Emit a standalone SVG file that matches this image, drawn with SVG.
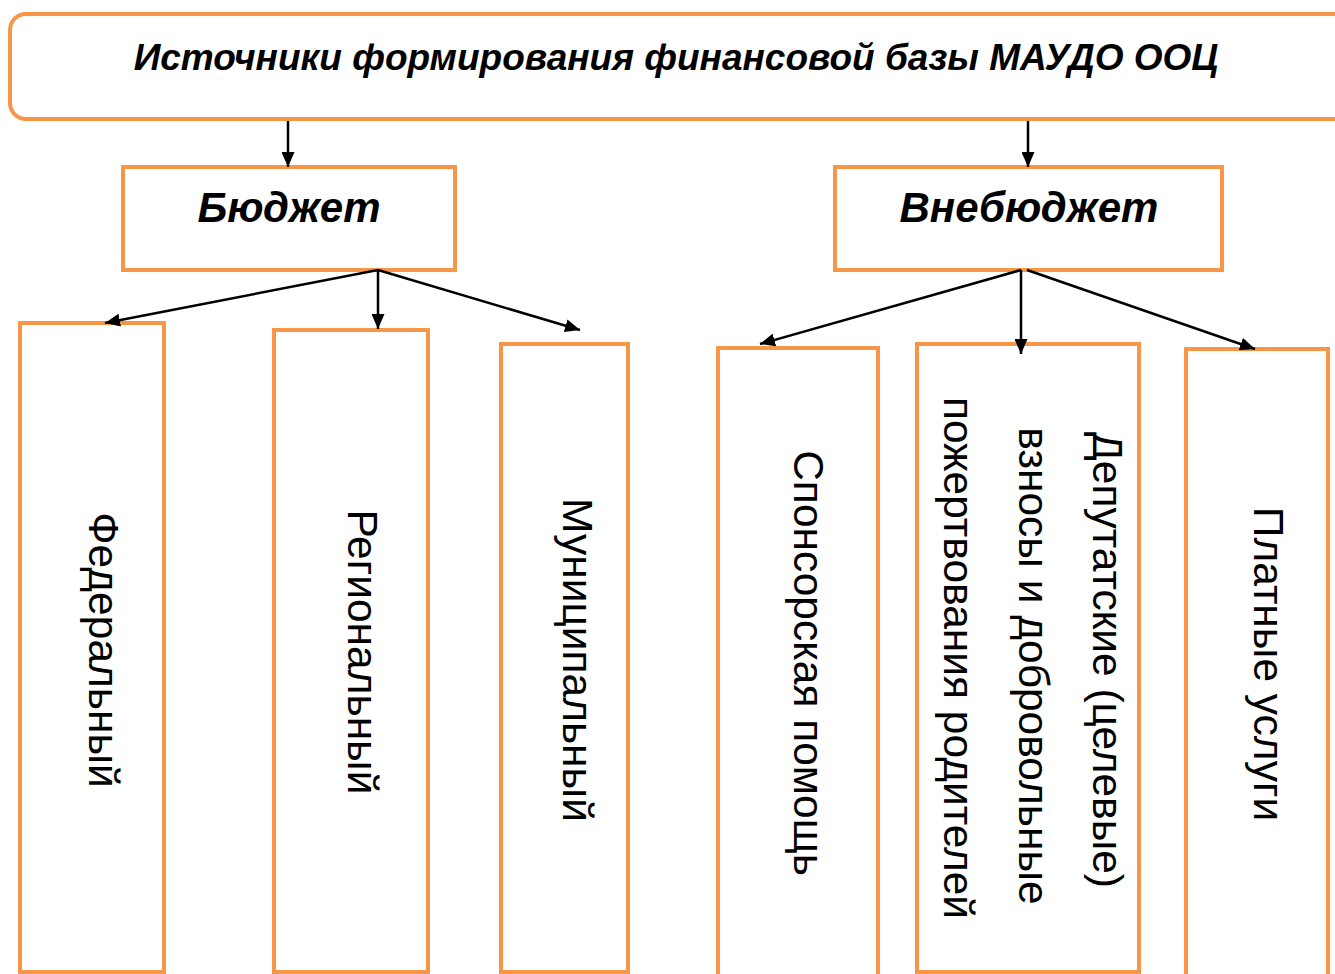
<svg xmlns="http://www.w3.org/2000/svg" width="1335" height="974" viewBox="0 0 1335 974">
<defs>
<marker id="ah" viewBox="0 0 10 10" refX="10" refY="5" markerWidth="15" markerHeight="13" markerUnits="userSpaceOnUse" orient="auto" preserveAspectRatio="none">
<path d="M0,0 L10,5 L0,10 z" fill="#000"/>
</marker>
<style>
.box{fill:#fff;stroke:#F79646;stroke-width:4}
.title{font-family:"Liberation Sans",Arial,sans-serif;font-weight:bold;font-style:italic;fill:#000}
.vt{font-family:"Liberation Sans",Arial,sans-serif;font-size:42.5px;fill:#000}
.conn line{stroke:#000;stroke-width:2.5;marker-end:url(#ah)}
</style>
</defs>
<rect width="1335" height="974" fill="#fff"/>
<g id="root">
<rect class="box" x="10" y="14" width="1345" height="105" rx="16"/>
<text class="title" x="676" y="70" font-size="37" text-anchor="middle">Источники формирования финансовой базы МАУДО ООЦ</text>
</g>
<g id="budget">
<rect class="box" x="123" y="167" width="332" height="103"/>
<text class="title" x="289" y="222" font-size="42" text-anchor="middle">Бюджет</text>
</g>
<g id="offbudget">
<rect class="box" x="835" y="167" width="387" height="103"/>
<text class="title" x="1029" y="222" font-size="42" text-anchor="middle">Внебюджет</text>
</g>
<g id="federal">
<rect class="box" x="20" y="323" width="144" height="649"/>
<text class="vt" transform="translate(103,650) rotate(90)" text-anchor="middle" dominant-baseline="central">Федеральный</text>
</g>
<g id="regional">
<rect class="box" x="274" y="330" width="154" height="642"/>
<text class="vt" transform="translate(362,652) rotate(90)" text-anchor="middle" dominant-baseline="central">Региональный</text>
</g>
<g id="municipal">
<rect class="box" x="501" y="344" width="127" height="628"/>
<text class="vt" transform="translate(577,660) rotate(90)" text-anchor="middle" dominant-baseline="central">Муниципальный</text>
</g>
<g id="sponsor">
<rect class="box" x="718" y="348" width="160" height="640"/>
<text class="vt" transform="translate(808,663) rotate(90)" text-anchor="middle" dominant-baseline="central">Спонсорская помощь</text>
</g>
<g id="deputy">
<rect class="box" x="917" y="344" width="222" height="628"/>
<text class="vt" transform="translate(1107,660) rotate(90)" text-anchor="middle" dominant-baseline="central">Депутатские (целевые)</text>
<text class="vt" transform="translate(1033,666) rotate(90)" text-anchor="middle" dominant-baseline="central">взносы и добровольные</text>
<text class="vt" transform="translate(958,658) rotate(90)" text-anchor="middle" dominant-baseline="central">пожертвования родителей</text>
</g>
<g id="paid">
<rect class="box" x="1186" y="349" width="142" height="640"/>
<text class="vt" transform="translate(1268,664) rotate(90)" text-anchor="middle" dominant-baseline="central">Платные услуги</text>
</g>
<g class="conn" id="connectors">
<line x1="288" y1="121" x2="288" y2="167"/>
<line x1="1028" y1="121" x2="1028" y2="167"/>
<line x1="378" y1="270" x2="105" y2="323"/>
<line x1="378" y1="270" x2="378" y2="329"/>
<line x1="378" y1="270" x2="580" y2="330"/>
<line x1="1021" y1="270" x2="760" y2="344"/>
<line x1="1021" y1="270" x2="1021" y2="354"/>
<line x1="1027" y1="270" x2="1255" y2="349"/>
</g>
</svg>
